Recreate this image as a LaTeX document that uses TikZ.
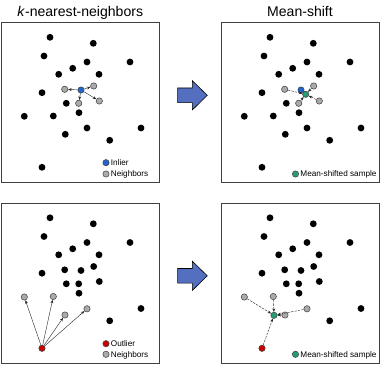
\documentclass[tikz,border=0pt]{standalone}
\usepackage{fontspec}
\setmainfont{Liberation Sans}
\usetikzlibrary{arrows.meta}
\definecolor{inlierblue}{RGB}{35,100,205}
\definecolor{shiftgreen}{RGB}{35,160,115}
\definecolor{outlierred}{RGB}{205,0,0}
\definecolor{pointgray}{RGB}{170,170,170}
\definecolor{arrowblue}{RGB}{84,110,192}
\newcommand{\basepts}{50/37.3,93.3/43.3,44/56,87/62,130/62,72.7/68.3,58.7/74.3,99/74.3,42/92.7,66.3/103.3,79/112.7,141/128,109.7/140.3}
\newcommand{\farpts}{24.3/116.3,53.3/116,65.3/134.3,87/128,42/167.3}
\newcommand{\nearpts}{64.7/89.3,93.7/86,78.7/103.3,99.3/101,81/90}

\begin{document}
\begin{tikzpicture}[scale=0.03, yscale=-1,
  pt/.style={circle,fill=black,inner sep=0pt,minimum size=2.05mm},
  nb/.style={circle,fill=pointgray,draw=black!75,line width=0.45pt,inner sep=0pt,minimum size=1.9mm},
  inl/.style={nb,fill=inlierblue},
  outl/.style={nb,fill=outlierred},
  shifted/.style={nb,fill=shiftgreen},
  knn/.style={-{Stealth[length=3pt,width=2.4pt]},line width=0.35pt,black!85},
  ms/.style={knn,dash pattern=on 2pt off 1pt},
  panel/.style={draw=black!75,line width=0.7pt},
  blockarrow/.style={fill=arrowblue,draw=black,line width=0.5pt,line join=miter},
  lbl/.style={font=\fontsize{7}{8}\selectfont,anchor=base west,inner sep=0pt},
  ttl/.style={font=\fontsize{12}{14}\selectfont,anchor=base,inner sep=0pt}]
\useasboundingbox (0,0) rectangle (382,365);
\node[ttl] (tknn) at (80.3,16.5) {\textit{k}-nearest-neighbors};
\node[ttl] (tms) at (300,16.5) {Mean-shift};
\foreach \dx/\dy in {0/0,220/0,0/180.5,220/180.5}
  \draw[panel] (1.5+\dx,22.5+\dy) rectangle (159+\dx,182.5+\dy);
\foreach \dy in {0,180.5}
  \draw[blockarrow] (177.7,88+\dy) -- (192.3,88+\dy) -- (192.3,80.7+\dy) -- (207.3,95.3+\dy)
    -- (192.3,110+\dy) -- (192.3,102.7+\dy) -- (177.7,102.7+\dy) -- cycle;

\begin{scope}
\foreach \x/\y [count=\i] in \basepts \node[pt] (a\i) at (\x,\y) {};
\foreach \x/\y [count=\i] in \farpts \node[pt] (af\i) at (\x,\y) {};
\node[nb] (an1) at (64.7,89.3) {};
\node[nb] (an2) at (93.7,86) {};
\node[nb] (an3) at (78.7,103.3) {};
\node[nb] (an4) at (99.3,101) {};
\node[inl] (ain) at (81,90) {};
\foreach \j in {1,...,4} \draw[knn] (ain) -- (an\j);
\node[inl] (alg1) at (106,162.7) {};
\node[lbl] (alt1) at (110.7,165.6) {Inlier};
\node[nb] (alg2) at (106,174) {};
\node[lbl] (alt2) at (110.7,176.9) {Neighbors};
\end{scope}

\begin{scope}[shift={(220,0)}]
\foreach \x/\y [count=\i] in \basepts \node[pt] (b\i) at (\x,\y) {};
\foreach \x/\y [count=\i] in \farpts \node[pt] (bf\i) at (\x,\y) {};
\node[nb] (bn1) at (64.7,89.3) {};
\node[nb] (bn2) at (93.7,86) {};
\node[nb] (bn3) at (78.7,103.3) {};
\node[nb] (bn4) at (99.3,101) {};
\node[inl] (bin) at (81,90) {};
\node[shifted] (bms) at (85.7,94.3) {};
\foreach \j in {1,...,4} \draw[ms] (bn\j) -- (bms);
\node[shifted] (blg1) at (75.5,174) {};
\node[lbl] (blt1) at (80.2,176.9) {Mean-shifted sample};
\end{scope}

\begin{scope}[shift={(0,180.5)}]
\foreach \x/\y [count=\i] in \basepts \node[pt] (c\i) at (\x,\y) {};
\foreach \x/\y [count=\i] in \nearpts \node[pt] (cf\i) at (\x,\y) {};
\node[nb] (cn1) at (24.3,116.5) {};
\node[nb] (cn2) at (53.3,116) {};
\node[nb] (cn3) at (65,134.5) {};
\node[nb] (cn4) at (87,128.3) {};
\node[outl] (cout) at (42,167.8) {};
\foreach \j in {1,...,4} \draw[knn] (cout) -- (cn\j);
\node[outl] (clg1) at (106,163.2) {};
\node[lbl] (clt1) at (110.7,166.1) {Outlier};
\node[nb] (clg2) at (106,173.8) {};
\node[lbl] (clt2) at (110.7,176.7) {Neighbors};
\end{scope}

\begin{scope}[shift={(220,180.5)}]
\foreach \x/\y [count=\i] in \basepts \node[pt] (d\i) at (\x,\y) {};
\foreach \x/\y [count=\i] in \nearpts \node[pt] (df\i) at (\x,\y) {};
\node[nb] (dn1) at (24.3,116.5) {};
\node[nb] (dn2) at (53.3,116) {};
\node[nb] (dn3) at (65,134.5) {};
\node[nb] (dn4) at (87,128.3) {};
\node[outl] (dout) at (42,167.8) {};
\node[shifted] (dms) at (54,134.8) {};
\foreach \j in {1,...,4} \draw[ms] (dn\j) -- (dms);
\draw[ms] (dout) -- (dms);
\node[shifted] (dlg1) at (75.5,173.8) {};
\node[lbl] (dlt1) at (80.2,176.7) {Mean-shifted sample};
\end{scope}
\end{tikzpicture}
\end{document}
